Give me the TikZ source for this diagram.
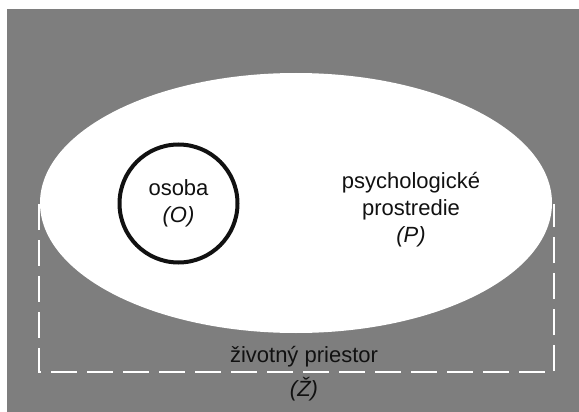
\documentclass[tikz,border=0pt]{standalone}
\usepackage{fontspec}
\setmainfont{Liberation Sans}
\usetikzlibrary{positioning,calc,shapes.geometric}
\definecolor{field}{HTML}{7E7E7E}
\definecolor{paper}{HTML}{FFFFFF}
\definecolor{ink}{HTML}{111111}
\tikzset{
  txt/.style={font=\fontsize{22}{27}\selectfont,align=center,inner sep=0pt,text=ink},
  region/.style={ellipse,fill=paper,draw=none,minimum width=512pt,minimum height=260pt,inner sep=0pt},
  person/.style={circle,draw=ink,line width=4pt,minimum size=118pt,inner sep=0pt},
  frame/.style={draw=paper,line width=2.6pt,dash pattern=on 26pt off 10pt},
  every node/.style={font=\fontsize{22}{27}\selectfont}
}
\begin{document}
\begin{tikzpicture}[x=1pt,y=-1pt]
\useasboundingbox (0,0) rectangle (579,412);
\fill[field] (7,9) rectangle (579,412);

\node[region] (env) at (296,203) {};
% zivotny priestor: open frame
\coordinate (frametl) at (39,204);
\coordinate (framebr) at (554,372);
\coordinate (frametr) at (554,204);
\draw[frame] (frametl) |- (framebr) -- (frametr);

\node[person,txt] (osoba) at (178.5,203.5) {osoba\\\textit{(O)}};
\node[txt] (prostredie) at (411,210) {psychologické\\prostredie\\\textit{(P)}};
\node[txt,font=\fontsize{22}{34}\selectfont] (priestor) at (304,374) {životný priestor\\\textit{(Ž)}};
\end{tikzpicture}
\end{document}
